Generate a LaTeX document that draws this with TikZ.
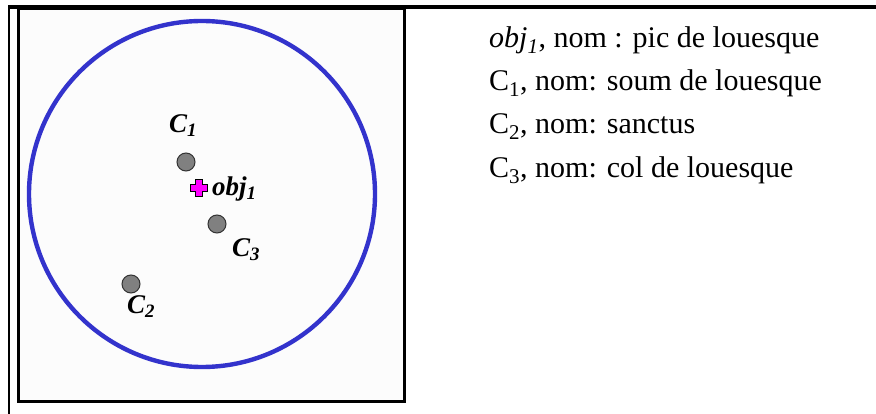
\documentclass[tikz,border=0pt]{standalone}
\usepackage{fontspec}
\setmainfont{Liberation Serif}
\definecolor{ringblue}{HTML}{3333CC}
\definecolor{dotgray}{HTML}{808080}
\definecolor{dotedge}{HTML}{333333}
\definecolor{objpink}{HTML}{FF00FF}
\tikzset{
  rule/.style={line width=3.2pt, draw=black},
  dotnode/.style={circle, fill=dotgray, draw=dotedge, line width=1pt, minimum size=18pt, inner sep=0pt},
  maplabel/.style={font=\fontsize{27}{30}\selectfont\bfseries\itshape, inner sep=0pt},
  listline/.style={font=\fontsize{30}{34}\selectfont, anchor=base west, inner sep=0pt},
}
\newcommand{\lowsub}[1]{\textsubscript{#1}}
\begin{document}
\begin{tikzpicture}[x=1pt,y=-1pt]
\useasboundingbox (0,0) rectangle (876,414);
\fill[white] (0,0) rectangle (876,414);
% table rules
\coordinate (tl) at (8,7);
\coordinate (tr) at (876,7);
\coordinate (lt) at (9,7);
\coordinate (lb) at (9,414);
\draw[rule] (tl) -- (tr);
\draw[line width=2.6pt] (lt) -- (lb);
% inner map frame
\node[draw=black, line width=3pt, minimum width=386pt, minimum height=392pt, inner sep=0pt, fill=white!99!black] (frame) at (211,205) {};
% ring
\node[draw=ringblue, line width=4.4pt, circle, minimum size=346pt, inner sep=0pt] (ring) at (202,194) {};
% dots
\node[dotnode] (c1) at (186,162) {};
\node[dotnode] (c3) at (217,224) {};
\node[dotnode] (c2) at (131,284) {};
% pink cross
\coordinate (obj) at (199,188);
\filldraw[fill=objpink, draw=black, line width=1pt, shift={(199,188)}]
  (-3.5,-8.5) -- (3.5,-8.5) -- (3.5,-3.5) -- (8.5,-3.5) -- (8.5,3.5) -- (3.5,3.5) -- (3.5,8.5) -- (-3.5,8.5) -- (-3.5,3.5) -- (-8.5,3.5) -- (-8.5,-3.5) -- (-3.5,-3.5) -- cycle;
% map labels
\node[maplabel] (lc1) at (183,126) {C\lowsub{1}};
\node[maplabel, anchor=west] (lobj) at (212,189) {obj\lowsub{1}};
\node[maplabel] (lc3) at (246,250) {C\lowsub{3}};
\node[maplabel] (lc2) at (141,307) {C\lowsub{2}};
% list
\node[listline] (t1) at (489,48) {\textit{obj\lowsub{1}}, nom : pic de louesque};
\node[listline] (t2) at (489,91) {C\lowsub{1}, nom: soum de louesque};
\node[listline] (t3) at (489,134) {C\lowsub{2}, nom: sanctus};
\node[listline] (t4) at (489,178) {C\lowsub{3}, nom: col de louesque};
\end{tikzpicture}
\end{document}
